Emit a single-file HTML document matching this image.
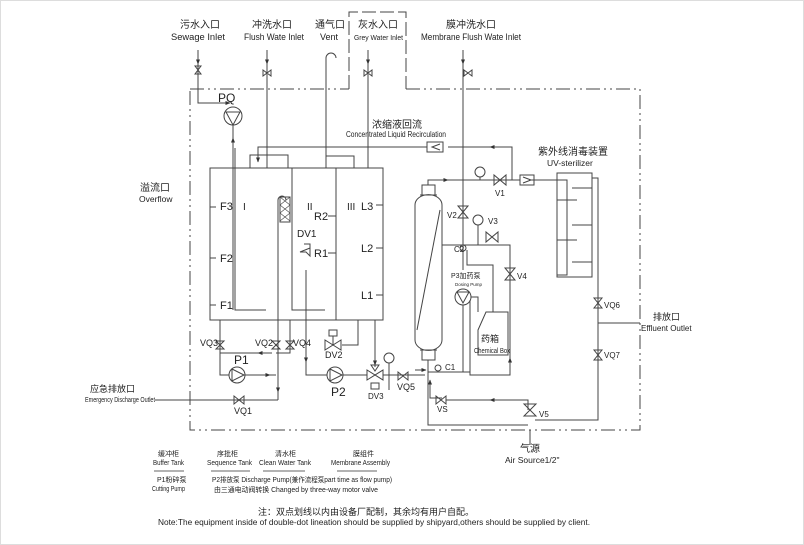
<!DOCTYPE html>
<html><head><meta charset="utf-8"><style>
html,body{margin:0;padding:0;background:#fff}
svg{display:block}
text{font-family:"Liberation Sans","Noto Sans CJK SC",sans-serif;fill:#222}
</style></head><body>
<svg width="804" height="545" viewBox="0 0 804 545" xmlns="http://www.w3.org/2000/svg">
<defs>
<marker id="a" viewBox="0 0 10 10" refX="9" refY="5" markerWidth="5" markerHeight="5" orient="auto"><path d="M0,1L10,5L0,9z" fill="#333"/></marker>
</defs>
<rect x="0.5" y="0.5" width="803" height="544" fill="none" stroke="#ddd"/>
<g stroke="#444" stroke-width="1" fill="none">
<path d="M190,89H349M406,89H640V430H190V89" stroke-dasharray="14,4,2,4,2,4"/>
<path d="M349,89V12H406V89" stroke-dasharray="14,4"/>
<rect x="210" y="168" width="173" height="152"/>
<line x1="336" y1="168" x2="336" y2="320"/>
<path d="M235,148V310H266M292,168V310H325"/>
<path d="M278,330V200a4,4 0 0 1 8,0"/>
<rect x="280" y="197" width="10" height="25"/>
<path d="M280,197l10,8M280,205l10,8M280,213l10,8M290,197l-10,8M290,205l-10,8M290,213l-10,8" stroke-width=".6"/>
<path d="M210,207h6M210,258h6M210,305h6M376,205h7M376,248h7M376,295h7M328,216h8M328,253h8"/>
<path d="M198,50V89V103H230" marker-end="url(#a)"/>
<path d="M198,50V64" marker-end="url(#a)"/>
<path d="M267,50V64" marker-end="url(#a)"/>
<path d="M368,50V64" marker-end="url(#a)"/>
<path d="M463,50V64" marker-end="url(#a)"/>
<path d="M267,64V168M368,64V168M463,64V212"/>
<path d="M326,168V58a5,5 0 0 1 10,0"/>
<path d="M326,156h28v12"/>
<circle cx="233" cy="116" r="9"/>
<path d="M226,112L240,112L233,125z"/>
<path d="M233,125V310"/>
<path d="M233,150V138" marker-end="url(#a)"/>
<path d="M512,180V147H448M427,147H258V160" />
<path d="M258,152V162" marker-end="url(#a)"/>
<path d="M500,147H490" marker-end="url(#a)"/>
<rect x="427" y="142" width="16" height="10"/>
<path d="M440,144l-8,3l8,3"/>
<path d="M250,168V155h38v13"/>
<path d="M195,66l6,0l-6,8h6z"/>
<path d="M263,70l8,6v-6l-8,6z M464,70l8,6v-6l-8,6z M364,70l8,6v-6l-8,6z"/>
<path d="M220,320V353H272M220,353V375H229M245,375H276M278,330V400M290,320V353H276"/>
<path d="M270,353H258" marker-end="url(#a)"/>
<path d="M260,375H270" marker-end="url(#a)"/>
<path d="M278,382V392" marker-end="url(#a)"/>
<path d="M155,400H278"/>
<circle cx="237" cy="375" r="8"/><path d="M232,369L244,375L232,381z"/>
<path d="M216,341l8,0l-8,8h8z M272,341l8,0l-8,8h8z M286,341l8,0l-8,8h8z"/>
<path d="M234,396l0,8l10,-8v8z"/>
<path d="M306,270V375H327M343,375H367M358,320V345H342M375,320V367"/>
<path d="M306,350V362" marker-end="url(#a)"/>
<circle cx="335" cy="375" r="8"/><path d="M330,369L342,375L330,381z"/>
<path d="M325,340l0,10l16,-10v10z"/><rect x="329" y="330" width="8" height="6"/><path d="M333,336v9"/>
<path d="M367,370v10l16,-10v10z"/><path d="M371,365h8l-4,6z"/>
<path d="M375,355V365" marker-end="url(#a)"/>
<rect x="371" y="383" width="8" height="6"/>
<circle cx="389" cy="358" r="5"/><path d="M389,363V390"/>
<path d="M383,375H425"/>
<path d="M398,372l0,8l10,-8v8z"/>
<path d="M300,252h6l4,4v-8zM304,244h6v4"/>
<path d="M415,205a13,10 0 0 1 27,0V340a13,10 0 0 1 -27,0z"/>
<path d="M417,330L440,210"/>
<path d="M422,195V185h13v10 M420,195h17 M422,350v10h13v-10 M420,350h17"/>
<path d="M428,185V180H512" />
<path d="M438,180H448" marker-end="url(#a)"/>
<path d="M428,360V425H528M428,372H470M470,245H510V375H470V300M442,245h28"/>
<path d="M510,368V358" marker-end="url(#a)"/>
<path d="M463,212V245M463,245V270M508,180H520M529,180H557"/>
<path d="M415,370H426" marker-end="url(#a)"/>
<circle cx="480" cy="172" r="5"/><path d="M480,177V180"/>
<circle cx="478" cy="220" r="5"/><path d="M478,225V245"/>
<path d="M494,175l0,10l12,-10v10z M458,206h10l-10,12h10z M486,232l0,10l12,-10v10z M505,268h10l-10,12h10z"/>
<rect x="520" y="175" width="14" height="10"/><path d="M523,177l8,3l-8,3"/>
<path d="M557,180h10v95h-10" />
<rect x="557" y="173" width="35" height="104"/>
<path d="M572,188h20M557,200h20M572,225h20M557,240h20M572,262h20"/>
<path d="M592,178H598V420H535M598,323H640"/>
<path d="M594,298l8,0l-8,10h8z M594,350l8,0l-8,10h8z"/>
<circle cx="463" cy="297" r="8"/><path d="M457,292L469,292L463,303z"/>
<path d="M467,250V265H493V312M471,297H478V312M463,305V372"/>
<path d="M478,330L486,312H508V355H478z"/>
<circle cx="463" cy="248" r="3"/><circle cx="438" cy="368" r="3"/>
<path d="M430,380V398H442"/><path d="M430,392V380" marker-end="url(#a)"/>
<path d="M436,396l0,8l10,-8v8z"/><path d="M446,400H528V410"/>
<path d="M500,400H490" marker-end="url(#a)"/>
<path d="M524,404h12l-12,12h12z"/><path d="M530,430V445"/>
</g>
<g font-size="9">
<text x="180" y="28" font-size="10">污水入口</text>
<text x="171" y="40" textLength="54" lengthAdjust="spacingAndGlyphs">Sewage Inlet</text>
<text x="252" y="28" font-size="10">冲洗水口</text>
<text x="244" y="40" textLength="60" lengthAdjust="spacingAndGlyphs">Flush Wate Inlet</text>
<text x="315" y="28" font-size="10">通气口</text>
<text x="320" y="40">Vent</text>
<text x="358" y="28" font-size="10">灰水入口</text>
<text x="354" y="40" font-size="7" textLength="49" lengthAdjust="spacingAndGlyphs">Grey Water Inlet</text>
<text x="446" y="28" font-size="10">膜冲洗水口</text>
<text x="421" y="40" textLength="100" lengthAdjust="spacingAndGlyphs">Membrane Flush Wate Inlet</text>
<text x="218" y="102" font-size="12">PQ</text>
<text x="372" y="128" font-size="10">浓缩液回流</text>
<text x="346" y="137" font-size="8" textLength="100" lengthAdjust="spacingAndGlyphs">Concentrated Liquid Recirculation</text>
<text x="140" y="191" font-size="10">溢流口</text>
<text x="139" y="202" font-size="8.5">Overflow</text>
<text x="220" y="210" font-size="11">F3</text><text x="220" y="262" font-size="11">F2</text><text x="220" y="309" font-size="11">F1</text>
<text x="243" y="210" font-size="10">I</text><text x="307" y="210" font-size="10">II</text><text x="347" y="210" font-size="10">III</text>
<text x="314" y="220" font-size="11">R2</text><text x="314" y="257" font-size="11">R1</text><text x="297" y="237" font-size="10">DV1</text>
<text x="361" y="210" font-size="11">L3</text><text x="361" y="252" font-size="11">L2</text><text x="361" y="299" font-size="11">L1</text>
<text x="200" y="346">VQ3</text><text x="255" y="346">VQ2</text><text x="293" y="346">VQ4</text>
<text x="234" y="364" font-size="12">P1</text><text x="331" y="396" font-size="12">P2</text>
<text x="325" y="358">DV2</text><text x="368" y="399" font-size="8">DV3</text>
<text x="397" y="390">VQ5</text><text x="234" y="414">VQ1</text>
<text x="90" y="392" font-size="9">应急排放口</text>
<text x="85" y="402" font-size="7" textLength="70" lengthAdjust="spacingAndGlyphs">Emergency Discharge Outlet</text>
<text x="538" y="155" font-size="10">紫外线消毒装置</text>
<text x="547" y="166" font-size="8.5">UV-sterilizer</text>
<text x="495" y="196" font-size="8">V1</text><text x="447" y="218" font-size="8">V2</text><text x="488" y="224" font-size="8">V3</text><text x="517" y="279" font-size="8">V4</text>
<text x="454" y="252" font-size="8">C2</text><text x="445" y="370" font-size="8">C1</text>
<text x="451" y="278" font-size="7">P3加药泵</text><text x="455" y="286" font-size="4.5">Dosing Pump</text>
<text x="481" y="342" font-size="9">药箱</text><text x="474" y="353" font-size="7" textLength="36" lengthAdjust="spacingAndGlyphs">Chemical Box</text>
<text x="437" y="412" font-size="8">VS</text><text x="539" y="417" font-size="8">V5</text>
<text x="604" y="308" font-size="8">VQ6</text><text x="604" y="358" font-size="8">VQ7</text>
<text x="653" y="320" font-size="9">排放口</text><text x="641" y="331" font-size="8">Effluent Outlet</text>
<text x="520" y="452" font-size="10">气源</text><text x="505" y="463" font-size="8.5">Air Source1/2"</text>
<text x="158" y="456" font-size="7">缓冲柜</text><text x="153" y="465" font-size="7" textLength="31" lengthAdjust="spacingAndGlyphs">Buffer Tank</text>
<text x="217" y="456" font-size="7">序批柜</text><text x="207" y="465" font-size="7" textLength="45" lengthAdjust="spacingAndGlyphs">Sequence Tank</text>
<text x="275" y="456" font-size="7">清水柜</text><text x="259" y="465" font-size="7" textLength="52" lengthAdjust="spacingAndGlyphs">Clean Water Tank</text>
<text x="353" y="456" font-size="7">膜组件</text><text x="331" y="465" font-size="7" textLength="59" lengthAdjust="spacingAndGlyphs">Membrane Assembly</text>
<path d="M154,471h30M211,471h39M263,471h42M337,471h40" stroke="#666"/>
<text x="157" y="482" font-size="7">P1粉碎泵</text><text x="152" y="491" font-size="7" textLength="33" lengthAdjust="spacingAndGlyphs">Cutting Pump</text>
<text x="212" y="482" font-size="7" textLength="180" lengthAdjust="spacingAndGlyphs">P2排放泵  Discharge Pump(兼作流程泵part time as flow pump)</text>
<text x="214" y="492" font-size="7" textLength="164" lengthAdjust="spacingAndGlyphs">由三通电动阀转换  Changed by three-way motor valve</text>
<text x="258" y="515" font-size="9">注：双点划线以内由设备厂配制，其余均有用户自配。</text>
<text x="158" y="525" font-size="8" textLength="432" lengthAdjust="spacingAndGlyphs">Note:The equipment inside of double-dot lineation should be supplied by shipyard,others should be supplied by client.</text>
</g>
</svg>
</body></html>
